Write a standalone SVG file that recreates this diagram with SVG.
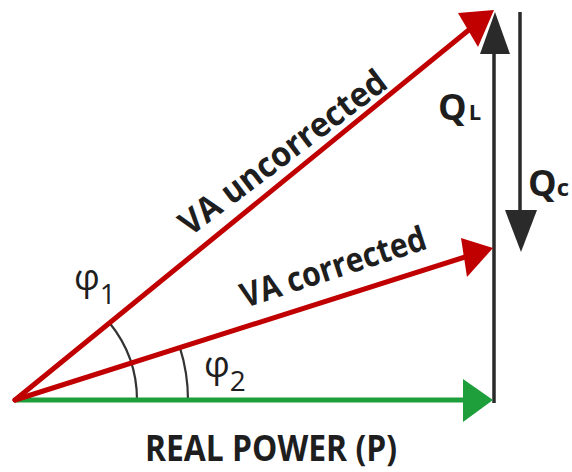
<svg xmlns="http://www.w3.org/2000/svg" width="572" height="472" viewBox="0 0 572 472">
<style>
.lbl{font-family:"Open Sans","Liberation Sans",sans-serif;font-weight:700;fill:#1e1e1e}
.phi{font-family:"Open Sans","Liberation Sans",sans-serif;font-weight:400;fill:#1e1e1e}
.red{stroke:#c00000;stroke-width:5;fill:none;stroke-linecap:round}
.grn{stroke:#1f9e3c;stroke-width:5;fill:none}
.blk{stroke:#2a2a2a;stroke-width:3.5;fill:none}
.arc{stroke:#333;stroke-width:2.2;fill:none}
</style>
<rect width="572" height="472" fill="#fff"/>
<g id="connectors">
<path class="arc" d="M137 400 A122 122 0 0 0 109.8 323.2"/>
<path class="arc" d="M188 400 A173 173 0 0 0 179.9 347.7"/>
<g id="QL-arrow">
<line class="blk" x1="494" y1="50" x2="494" y2="403"/>
<polygon points="495,12 510,54 480,54" fill="#2a2a2a"/>
</g>
<g id="Qc-arrow">
<line class="blk" x1="520" y1="12" x2="520" y2="212"/>
<polygon points="505,210 537,210 521,252" fill="#2a2a2a"/>
</g>
<g id="P-arrow">
<line class="grn" x1="15" y1="400" x2="466" y2="400"/>
<polygon points="493,400 463,379 463,422" fill="#1f9e3c"/>
</g>
<g id="VA-corrected-arrow">
<line class="red" x1="15" y1="400" x2="468" y2="256"/>
<polygon points="493,248 461,238 467,277" fill="#c00000"/>
</g>
<g id="VA-uncorrected-arrow">
<line class="red" x1="15" y1="400" x2="470" y2="29"/>
<polygon points="494,10 458,13 478,47" fill="#c00000"/>
</g>
</g>
<g id="label-VA-uncorrected">
<text class="lbl" font-size="34" transform="translate(190,237) rotate(-37)" textLength="250" lengthAdjust="spacingAndGlyphs">VA uncorrected</text>
</g>
<g id="label-VA-corrected">
<text class="lbl" font-size="34" transform="translate(245,308) rotate(-18)" textLength="193" lengthAdjust="spacingAndGlyphs">VA corrected</text>
</g>
<g id="label-phi1">
<text class="phi" font-size="36" x="74" y="290">φ<tspan font-size="28" dy="14">1</tspan></text>
</g>
<g id="label-phi2">
<text class="phi" font-size="36" x="204" y="377">φ<tspan font-size="28" dy="14">2</tspan></text>
</g>
<g id="label-QL">
<text class="lbl" font-size="36" x="438" y="120">Q<tspan font-size="22" dx="2">L</tspan></text>
</g>
<g id="label-Qc">
<text class="lbl" font-size="36" x="528" y="196">Q<tspan font-size="24">c</tspan></text>
</g>
<g id="label-P">
<text class="lbl" font-size="36" x="145" y="461" textLength="252" lengthAdjust="spacingAndGlyphs">REAL POWER  (P)</text>
</g>
</svg>
